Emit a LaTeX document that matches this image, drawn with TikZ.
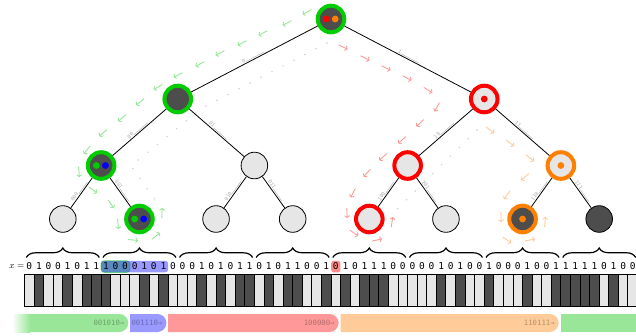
\documentclass[tikz,border=0pt]{standalone}
\usepackage{fontspec}
\newfontfamily\dvm{DejaVu Sans Mono}
\usetikzlibrary{decorations.pathreplacing,arrows.meta}
\definecolor{lg}{HTML}{E6E6E6}
\definecolor{dg}{HTML}{4D4D4D}
\definecolor{rg}{HTML}{00CC00}
\definecolor{rr}{HTML}{FF0000}
\definecolor{ro}{HTML}{FF8000}
\definecolor{rb}{HTML}{0000FF}
\definecolor{pg}{HTML}{99E699}
\definecolor{pr}{HTML}{FF9999}
\definecolor{po}{HTML}{FFCC99}
\definecolor{pb}{HTML}{9999FF}
\newcommand\bitfont{\dvm\fontsize{9.5}{10}\selectfont}
\newcommand\elabfont{\dvm\fontsize{5.2}{5.2}\selectfont}
\newcommand\bandfont{\dvm\fontsize{7.3}{8}\selectfont}
\newcommand\lbl[1]{\makebox[24pt][l]{#1\hrulefill}}
\begin{document}
\begin{tikzpicture}[x=1pt,y=-1pt,
  tn/.style={circle, minimum size=26.6pt, inner sep=0pt, draw=black, line width=0.8pt, fill=lg},
  dk/.style={fill=dg},
  rgg/.style={draw=rg, line width=4pt},
  rgr/.style={draw=rr, line width=4pt},
  rgo/.style={draw=ro, line width=4pt},
  edge/.style={draw=black, line width=0.8pt},
  elab/.style={sloped, above, inner sep=1pt, font=\elabfont, text=black!32},
  bit/.style={inner sep=0pt, font=\bitfont},
  brc/.style={decorate, decoration={brace, amplitude=9.5pt}, line width=1.2pt},
  dotp/.style={draw=black!18, line width=1.7pt, line cap=round, dash pattern=on 0pt off 12.4pt},
  arrst/.style={line width=0.9pt, -{To[length=2.6pt,width=5.5pt]}},
  bandtxt/.style={anchor=east, inner sep=0pt, font=\bandfont, text=black, text opacity=0.3},
]
\useasboundingbox (0,0) rectangle (636,335);

% dotted guide paths
\draw[dotp] (327,43) -- (202,108) -- (131,166) -- (158,204);
\draw[dotp] (477,130) -- (392,214);

% arrow trails: x/y/angle (screen angle, y downwards)
\foreach \cx/\cy/\a in {307/12/153, 287/23/153, 263/33/153, 242/43/153, 220/53/153, 200/64/153, 178/75/153, 158/87/150, 140/102/140, 122/118/139, 103/133/139, 87/150/128, 79/172/85, 93/190/35, 111/204/55, 118/224/85, 133/240/5, 156/236/-40, 162/213/-88}
  \draw[arrst, pg] ([shift={(\a+180:5)}]\cx,\cy) -- ([shift={(\a:5)}]\cx,\cy);
\foreach \cx/\cy/\a in {343/47/26, 365/58/26, 386/68/26, 407/78/27, 428/90/32, 437/107/118, 420/123/138, 402/140/138, 383/157/138, 367/173/132, 353/193/118, 347/213/88, 354/233/35, 377/240/-12, 392/222/-82}
  \draw[arrst, pr] ([shift={(\a+180:5)}]\cx,\cy) -- ([shift={(\a:5)}]\cx,\cy);
\foreach \cx/\cy/\a in {490/130/37, 510/143/37, 530/158/40, 525/177/138, 507/195/125, 501/217/88, 507/240/35, 530/240/-10, 545/222/-85}
  \draw[arrst, po] ([shift={(\a+180:5)}]\cx,\cy) -- ([shift={(\a:5)}]\cx,\cy);

% tree nodes
\node[tn, dk, rgg] (r) at (331,19) {};
\node[tn, dk, rgg] (n0) at (177.75,99) {};
\node[tn, rgr] (n1) at (484.25,99) {};
\node[tn, dk, rgg] (n00) at (101.13,165.5) {};
\node[tn] (n01) at (254.38,165.5) {};
\node[tn, rgr] (n10) at (407.63,165.5) {};
\node[tn, rgo] (n11) at (560.88,165.5) {};
\node[tn] (n000) at (62.81,219) {};
\node[tn, dk, rgg] (n001) at (139.44,219) {};
\node[tn] (n010) at (216.06,219) {};
\node[tn] (n011) at (292.69,219) {};
\node[tn, rgr] (n100) at (369.31,219) {};
\node[tn] (n101) at (445.94,219) {};
\node[tn, dk, rgo] (n110) at (522.56,219) {};
\node[tn, dk] (n111) at (599.19,219) {};

% inner dots
\fill[rr] ([xshift=-4.8pt]r.center) circle (3.4pt);
\fill[ro] ([xshift=4.2pt]r.center) circle (3.4pt);
\fill[rg] ([xshift=-4.8pt]n00.center) circle (3.4pt);
\fill[rb] ([xshift=4.3pt]n00.center) circle (3.4pt);
\fill[rg] ([xshift=-4.8pt]n001.center) circle (3.4pt);
\fill[rb] ([xshift=4.3pt]n001.center) circle (3.4pt);
\fill[rr] (n1.center) circle (3.4pt);
\fill[ro] (n11.center) circle (3.4pt);
\fill[ro] (n110.center) circle (3.4pt);

% edges with labels
\draw[edge] (r) -- node[elab]{\lbl{0}} (n0);
\draw[edge] (r) -- node[elab]{\lbl{1}} (n1);
\draw[edge] (n0) -- node[elab]{\lbl{00}} (n00);
\draw[edge] (n0) -- node[elab]{\lbl{01}} (n01);
\draw[edge] (n1) -- node[elab]{\lbl{10}} (n10);
\draw[edge] (n1) -- node[elab]{\lbl{11}} (n11);
\draw[edge] (n00) -- node[elab]{\lbl{000}} (n000);
\draw[edge] (n00) -- node[elab]{\lbl{001}} (n001);
\draw[edge] (n01) -- node[elab]{\lbl{010}} (n010);
\draw[edge] (n01) -- node[elab]{\lbl{011}} (n011);
\draw[edge] (n10) -- node[elab]{\lbl{100}} (n100);
\draw[edge] (n10) -- node[elab]{\lbl{101}} (n101);
\draw[edge] (n11) -- node[elab]{\lbl{110}} (n110);
\draw[edge] (n11) -- node[elab]{\lbl{111}} (n111);

% braces
\foreach \lx in {62.81,139.44,216.06,292.69,369.31,445.94,522.56,599.19} {
  \draw[brc] (\lx-36.5,257.5) -- (\lx+36.5,257.5);
}

% highlights
\draw[rounded corners=3pt, fill=pg, draw=rg!55, line width=1pt] (101.1,260.8) rectangle (129.8,272.3);
\fill[rb, opacity=0.4, rounded corners=3pt] (101.1,260.8) rectangle (168.2,272.3);
\fill[pr!90!red, rounded corners=2.5pt] (331.2,260.8) rectangle (340.4,272.3);

% x label
\node[anchor=east, inner sep=0pt, font=\fontsize{9}{9}\selectfont] (xl) at (24.5,266.5) {$x=$};

% bits and bar
\foreach \b [count=\i] in {0,1,0,0,1,0,1,1, 1,0,0,0,1,0,1,0, 0,0,1,0,1,0,1,1, 0,1,0,1,1,0,0,1, 0,1,0,1,1,1,0,0, 0,0,0,1,0,1,0,0, 1,0,0,0,1,0,0,1, 1,1,1,1,0,1,0,0} {
  \pgfmathsetmacro\xl{24.5+(\i-1)*9.578}
  \pgfmathsetmacro\xr{\xl+9.578}
  \ifnum\b=1 \def\cc{dg}\else\def\cc{lg}\fi
  \filldraw[fill=\cc, draw=black, line width=0.9pt] (\xl,274.5) rectangle (\xr,306.5);
  \node[bit] (b\i) at ({(\xl+\xr)/2},266.5) {\b};
}

% bands
\shade[left color=white, right color=pg] (12,314) rectangle (30.2,332);
\fill[pg] (30,314) {[rounded corners=9pt] -- (128.3,314) -- (128.3,332)} -- (30,332) -- cycle;
\fill[pb] (130.1,314) {[rounded corners=9pt] -- (166.4,314) -- (166.4,332)} -- (130.1,332) -- cycle;
\fill[pr] (168.2,314) {[rounded corners=9pt] -- (338.6,314) -- (338.6,332)} -- (168.2,332) -- cycle;
\fill[po] (340.6,314) {[rounded corners=9pt] -- (558.7,314) -- (558.7,332)} -- (340.6,332) -- cycle;
\fill[pg] (560.9,314) rectangle (636,332);
\node[bandtxt] (t1) at (124.5,323) {001010→};
\node[bandtxt] (t2) at (162.5,323) {001110→};
\node[bandtxt] (t3) at (334.8,323) {100000→};
\node[bandtxt] (t4) at (554.9,323) {110111→};
\end{tikzpicture}
\end{document}
